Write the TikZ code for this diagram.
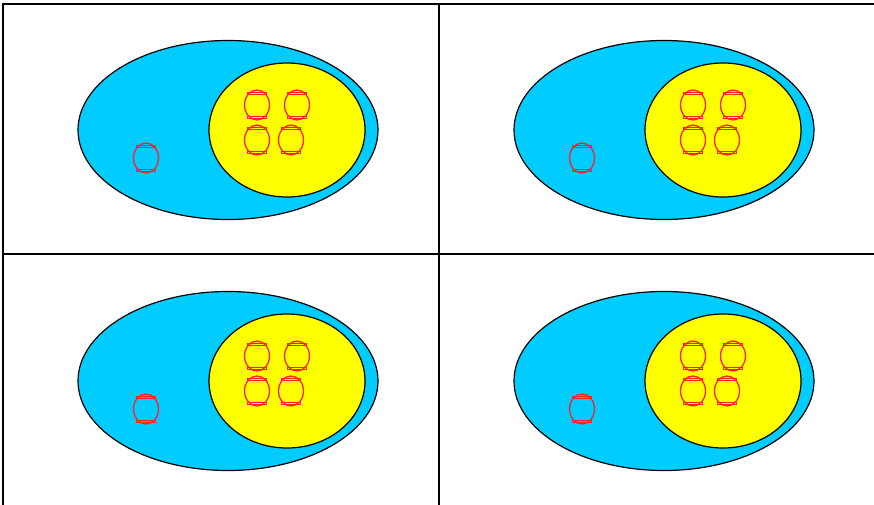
\documentclass[tikz,border=0pt]{standalone}
\usepackage{tikz}
\definecolor{outerblue}{HTML}{00CCFF}
\definecolor{inneryellow}{HTML}{FFFF00}
\definecolor{cellred}{HTML}{FF2020}

\begin{document}
\begin{tikzpicture}[x=1pt, y=-1pt,
  frame/.style={draw=black, line width=1.6pt},
  outer/.style={draw=black, line width=1.2pt, fill=outerblue},
  inner/.style={draw=black, line width=1.2pt, fill=inneryellow},
  cell/.style={draw=cellred, line width=1.3pt},
  lid/.style={draw=cellred, line width=0.7pt}
]
  \useasboundingbox (0,0) rectangle (874,505);

  % grid
  \draw[frame] (874,4) -- (3,4) -- (3,505);
  \draw[frame] (3,254) -- (874,254);
  \draw[frame] (439,4) -- (439,505);

  % one small red cell
  \newcommand{\redcell}[2]{%
    \draw[cell] (#1,#2) ellipse (12.5pt and 15pt);
    \draw[lid] (#1-9.5,#2-11) rectangle (#1+9.5,#2-13);
    \draw[lid] (#1-9.5,#2+11) rectangle (#1+9.5,#2+13);
  }

  % four panels
  \foreach \dx/\dy in {0/0, 436/0, 0/251, 436/251} {
    \begin{scope}[shift={(\dx,\dy)}]
      \path[outer] (228,130) ellipse (150pt and 89.5pt);
      \path[inner] (287,130) ellipse (78pt and 67pt);
      \redcell{257}{105}
      \redcell{297}{105}
      \redcell{257}{140}
      \redcell{291}{140}
      \redcell{146}{158}
    \end{scope}
  }
\end{tikzpicture}
\end{document}
